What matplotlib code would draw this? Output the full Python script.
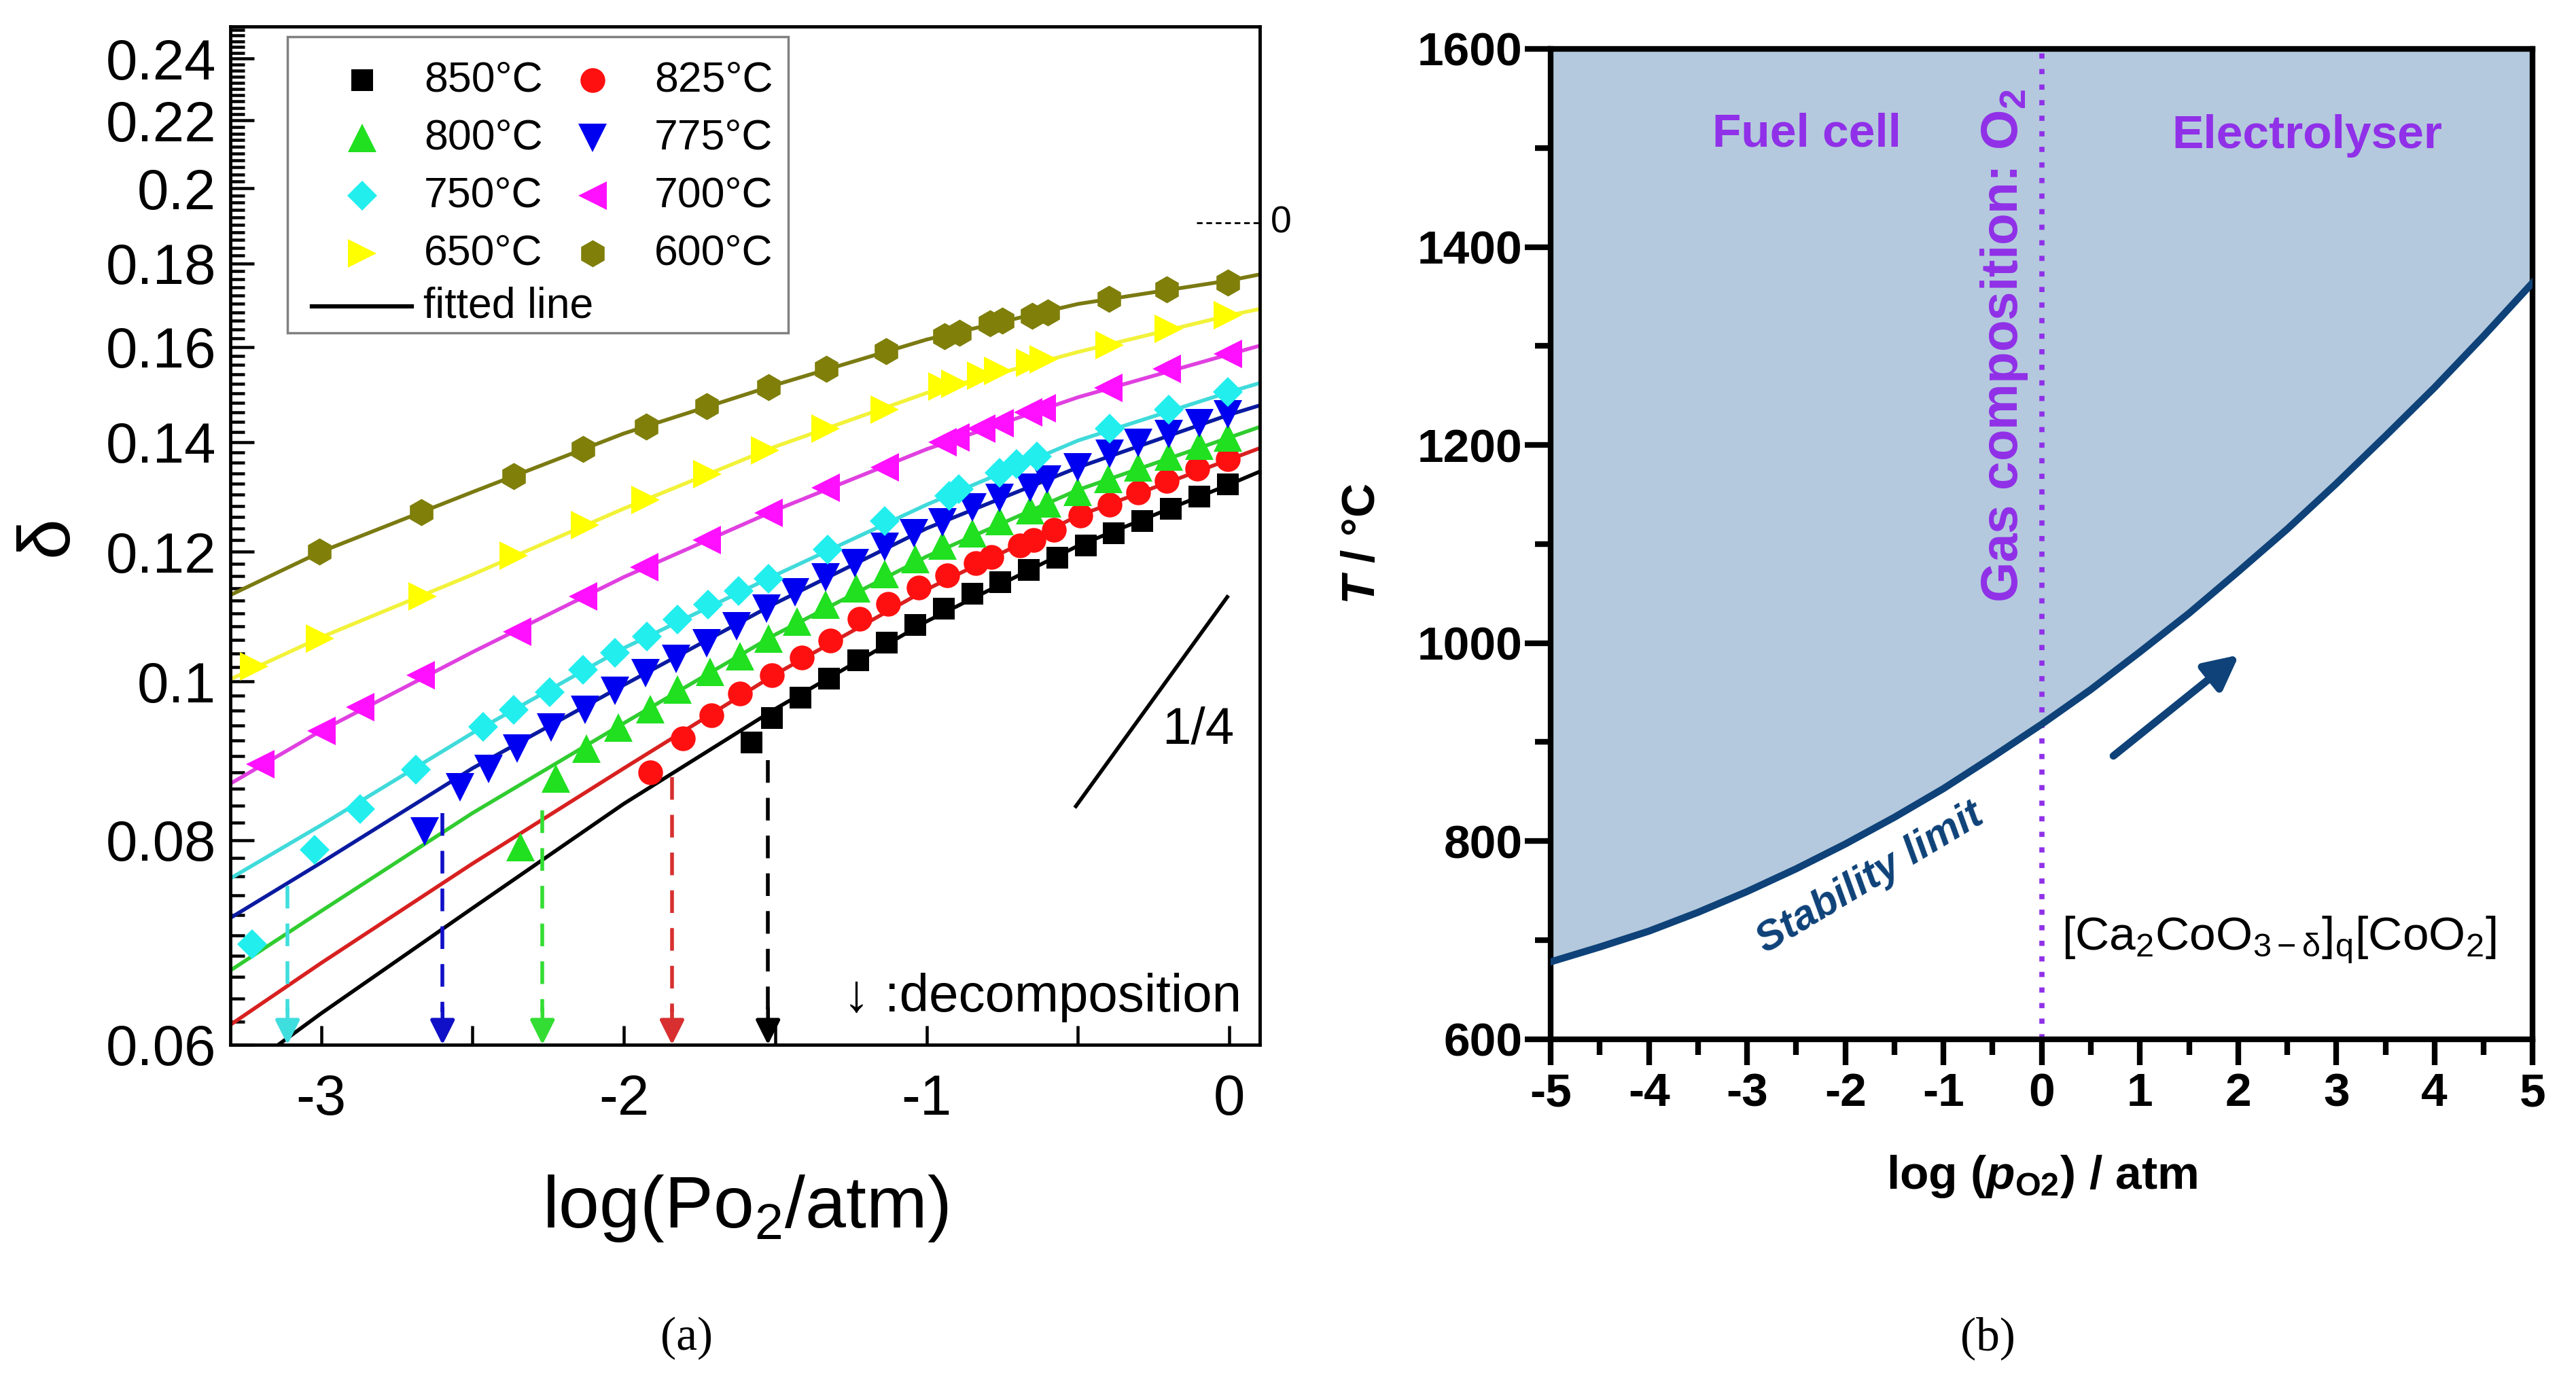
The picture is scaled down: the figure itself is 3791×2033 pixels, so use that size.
import numpy as np
import matplotlib
matplotlib.use("Agg")
import matplotlib.pyplot as plt
from matplotlib.ticker import FixedLocator, FormatStrFormatter, NullFormatter, MultipleLocator
from matplotlib.patches import Rectangle

# Fonts
plt.rcParams['font.family'] = ['Liberation Sans', 'DejaVu Sans']
plt.rcParams['mathtext.fontset'] = 'custom'
plt.rcParams['mathtext.rm'] = 'Liberation Sans'
plt.rcParams['mathtext.it'] = 'Liberation Sans:italic:bold'
plt.rcParams['mathtext.bf'] = 'Liberation Sans:bold'
plt.rcParams['axes.unicode_minus'] = False

# ---------------- Panel (a): delta vs log(pO2) ----------------
X_850 = [-1.579, -1.512, -1.417, -1.322, -1.227, -1.132, -1.038, -0.944, -0.850, -0.756,
         -0.662, -0.568, -0.474, -0.381, -0.287, -0.193, -0.099, -0.005]
Y_850 = [0.0918, 0.0950, 0.0977, 0.1004, 0.1030, 0.1056, 0.1083, 0.1108, 0.1131, 0.1150,
         0.1170, 0.1190, 0.1210, 0.1231, 0.1253, 0.1275, 0.1297, 0.1319]

X_825 = [-1.912, -1.805, -1.711, -1.616, -1.512, -1.412, -1.317, -1.222, -1.127, -1.026, -0.932,
         -0.837, -0.786, -0.692, -0.647, -0.580, -0.491, -0.396, -0.301, -0.206, -0.105, -0.005]
Y_825 = [0.0880, 0.0923, 0.0953, 0.0983, 0.1009, 0.1034, 0.1059, 0.1092, 0.1115, 0.1141, 0.1161,
         0.1181, 0.1191, 0.1211, 0.1220, 0.1238, 0.1262, 0.1282, 0.1304, 0.1326, 0.1349, 0.1366]

X_800 = [-2.341, -2.224, -2.124, -2.018, -1.912, -1.822, -1.716, -1.616, -1.523, -1.428, -1.334,
         -1.233, -1.138, -1.038, -0.948, -0.848, -0.759, -0.658, -0.602, -0.502, -0.401, -0.301,
         -0.200, -0.100, -0.005]
Y_800 = [0.0792, 0.0872, 0.0910, 0.0937, 0.0962, 0.0989, 0.1014, 0.1036, 0.1062, 0.1088, 0.1114,
         0.1140, 0.1163, 0.1188, 0.1211, 0.1232, 0.1253, 0.1272, 0.1284, 0.1306, 0.1329, 0.1351,
         0.1372, 0.1393, 0.1409]

X_775 = [-2.659, -2.542, -2.447, -2.353, -2.241, -2.129, -2.029, -1.928, -1.828, -1.727, -1.627,
         -1.529, -1.434, -1.334, -1.238, -1.138, -1.043, -0.948, -0.848, -0.759, -0.658, -0.602,
         -0.502, -0.396, -0.301, -0.200, -0.100, -0.005]
Y_775 = [0.0810, 0.0862, 0.0884, 0.0910, 0.0937, 0.0961, 0.0987, 0.1012, 0.1032, 0.1055, 0.1080,
         0.1108, 0.1133, 0.1157, 0.1181, 0.1208, 0.1232, 0.1250, 0.1277, 0.1294, 0.1313, 0.1328,
         0.1351, 0.1377, 0.1398, 0.1416, 0.1438, 0.1455]

X_750 = [-3.229, -3.022, -2.872, -2.687, -2.464, -2.364, -2.246, -2.135, -2.029, -1.923, -1.822,
         -1.722, -1.622, -1.523, -1.328, -1.138, -0.926, -0.893, -0.759, -0.703, -0.636, -0.396,
         -0.200, -0.005]
Y_750 = [0.0691, 0.0789, 0.0836, 0.0883, 0.0938, 0.0961, 0.0985, 0.1016, 0.1041, 0.1065, 0.1091,
         0.1114, 0.1135, 0.1155, 0.1204, 0.1253, 0.1298, 0.1311, 0.1341, 0.1357, 0.1372, 0.1427,
         0.1466, 0.1502]

X_700 = [-3.201, -3.000, -2.872, -2.671, -2.353, -2.135, -1.934, -1.727, -1.523, -1.334, -1.138,
         -0.948, -0.904, -0.820, -0.759, -0.664, -0.619, -0.401, -0.206, -0.005]
Y_700 = [0.0890, 0.0933, 0.0964, 0.1009, 0.1072, 0.1127, 0.1174, 0.1220, 0.1267, 0.1313, 0.1351,
         0.1400, 0.1409, 0.1427, 0.1438, 0.1460, 0.1468, 0.1511, 0.1551, 0.1584]

X_650 = [-3.221, -3.004, -2.665, -2.364, -2.129, -1.928, -1.725, -1.534, -1.334, -1.138, -0.948,
         -0.904, -0.820, -0.764, -0.658, -0.613, -0.396, -0.200, -0.005]
Y_650 = [0.1021, 0.1062, 0.1127, 0.1193, 0.1246, 0.1291, 0.1338, 0.1384, 0.1427, 0.1466, 0.1513,
         0.1520, 0.1537, 0.1547, 0.1565, 0.1572, 0.1605, 0.1641, 0.1673]

X_600 = [-3.005, -2.669, -2.365, -2.134, -1.927, -1.726, -1.523, -1.331, -1.133, -0.941, -0.891,
         -0.791, -0.750, -0.652, -0.600, -0.398, -0.206, -0.006]
Y_600 = [0.1200, 0.1268, 0.1335, 0.1387, 0.1431, 0.1472, 0.1512, 0.1551, 0.1591, 0.1625, 0.1633,
         0.1654, 0.1661, 0.1671, 0.1679, 0.1712, 0.1735, 0.1752]

# Fitted Lines (at fixed log(pO2) values)
FIT_X = [-3.3, -3.0, -2.5, -2.0, -1.5, -1.0, -0.5, 0.0, 0.1]
FIT_850 = [0.0571, 0.0627, 0.0727, 0.0842, 0.0962, 0.1088, 0.1210, 0.1319, 0.1343]
FIT_825 = [0.0617, 0.0673, 0.0774, 0.0885, 0.1010, 0.1138, 0.1262, 0.1366, 0.1388]
FIT_800 = [0.0666, 0.0724, 0.0831, 0.0943, 0.1068, 0.1192, 0.1309, 0.1409, 0.1430]
FIT_775 = [0.0717, 0.0775, 0.0885, 0.0995, 0.1116, 0.1240, 0.1351, 0.1455, 0.1474]
FIT_750 = [0.0758, 0.0817, 0.0930, 0.1048, 0.1161, 0.1282, 0.1403, 0.1502, 0.1521]
FIT_700 = [0.0866, 0.0933, 0.1042, 0.1158, 0.1272, 0.1386, 0.1491, 0.1584, 0.1603]
FIT_650 = [0.1003, 0.1064, 0.1162, 0.1275, 0.1391, 0.1500, 0.1589, 0.1673, 0.1688]
FIT_600 = [0.1129, 0.1200, 0.1305, 0.1417, 0.1517, 0.1617, 0.1700, 0.1757, 0.1772]

# Decomposition Arrows (750, 775, 800, 825, 850 C)
DECOMP_X = [-3.111, -2.599, -2.269, -1.841, -1.524]
DECOMP_TOP = [0.0750, 0.0831, 0.0834, 0.0874, 0.0895]
DECOMP_COLORS = ['#3fdede', '#1010c8', '#33dd33', '#d83030', '#000000']

# Series Table: label, x, y, fit, marker, marker colour, line colour, marker size
SERIES = [
    ('850°C', X_850, Y_850, FIT_850, 's', '#000000', '#000000', 9.3),
    ('825°C', X_825, Y_825, FIT_825, 'o', '#ff1010', '#d82020', 10.5),
    ('800°C', X_800, Y_800, FIT_800, '^', '#20e020', '#30cc30', 12),
    ('775°C', X_775, Y_775, FIT_775, 'v', '#0000f0', '#0a1aa0', 12),
    ('750°C', X_750, Y_750, FIT_750, 'D', '#22eeee', '#40dada', 9),
    ('700°C', X_700, Y_700, FIT_700, '<', '#ff10ff', '#e040e0', 12),
    ('650°C', X_650, Y_650, FIT_650, '>', '#ffff00', '#f2f23a', 12),
    ('600°C', X_600, Y_600, FIT_600, 'h', '#7f7f0a', '#7a7a12', 11.5),
]

# ---------------- Panel (b): stability limit ----------------
STAB_X = [-5.0, -4.5, -4.0, -3.5, -3.0, -2.5, -2.0, -1.5, -1.0, -0.5, 0.0,
          0.5, 1.0, 1.5, 2.0, 2.5, 3.0, 3.5, 4.0, 4.5, 5.0]
STAB_T = [678, 693, 709, 728, 749, 772, 797, 824, 853, 885, 918,
          953, 991, 1030, 1072, 1115, 1161, 1209, 1258, 1310, 1364]


def draw_legend(ax):
    # Legend Box (two columns of markers, fitted line on its own row)
    tr = ax.transAxes
    ax.add_patch(Rectangle((0.0558, 0.6995), 0.4865, 0.2908, transform=tr, facecolor='white',
                           edgecolor='#808080', lw=1.0, zorder=6))
    for i, (label, xs, ys, fit, mk, mc, lc, ms) in enumerate(SERIES):
        row, col = i // 2, i % 2
        mx = 0.1278 + col * 0.2238
        my = 0.9478 - row * 0.0569
        ax.plot([mx], [my], ls='none', marker=mk, color=mc, ms=ms, mew=0, transform=tr,
                clip_on=False, zorder=7)
        ax.text(mx + 0.0605, my, label, fontsize=18, ha='left', va='center', transform=tr,
                zorder=7)
    ax.plot([0.0792, 0.176], [0.7251, 0.7251], color='black', lw=1.8, transform=tr,
            clip_on=False, zorder=7)
    ax.text(0.1876, 0.7251, 'fitted line', fontsize=18, ha='left', va='center', transform=tr,
            zorder=7)


def draw_left(fig):
    ax = fig.add_axes([0.0894, 0.2435, 0.3996, 0.7371])
    ax.set_yscale('log')

    # Fitted Lines and Data
    for label, xs, ys, fit, mk, mc, lc, ms in SERIES:
        ax.plot(FIT_X, fit, color=lc, lw=1.6, zorder=2)
        ax.plot(xs, ys, ls='none', marker=mk, color=mc, ms=ms, mec=mc, mew=0, zorder=3)

    # Decomposition Arrows
    for x, top, c in zip(DECOMP_X, DECOMP_TOP, DECOMP_COLORS):
        ax.plot([x, x], [top, 0.0628], color=c, lw=1.6, ls=(0, (6, 4)), zorder=2)
        ax.annotate('', xy=(x, 0.06), xytext=(x, 0.0632),
                    arrowprops=dict(arrowstyle='-|>', color=c, lw=1.6, mutation_scale=22,
                                    shrinkA=0, shrinkB=0), zorder=4)

    # Slope Guide
    ax.plot([-0.507, -0.007], [0.0839, 0.1126], color='black', lw=1.6)
    ax.text(-0.103, 0.0933, '1/4', fontsize=22, ha='center', va='center')
    ax.text(0.04, 0.0641, '↓ :decomposition', fontsize=22.5, ha='right', va='center')

    # Stray Dashed Marker at Top Right
    ax.plot([-0.108, 0.097], [0.1905, 0.1905], color='black', lw=0.8, ls=(0, (3, 2)))
    ax.text(0.135, 0.1905, '0', fontsize=16, ha='left', va='center', clip_on=False)

    draw_legend(ax)

    # Axes
    ax.set_xlim(-3.3, 0.1)
    ax.set_ylim(0.06, 0.251)
    ax.xaxis.set_major_locator(FixedLocator([-3, -2, -1, 0]))
    ax.xaxis.set_minor_locator(FixedLocator([-2.5, -1.5, -0.5]))
    ax.yaxis.set_major_locator(FixedLocator(np.arange(0.06, 0.2401, 0.02)))
    ax.yaxis.set_major_formatter(FormatStrFormatter('%g'))
    ax.yaxis.set_minor_locator(FixedLocator(np.arange(0.06, 0.251, 0.002)))
    ax.yaxis.set_minor_formatter(NullFormatter())
    ax.tick_params(axis='both', which='both', direction='in', labelsize=24, width=1.3)
    ax.tick_params(axis='x', which='both', length=8, pad=12)
    ax.tick_params(axis='y', which='major', length=10, pad=6)
    ax.tick_params(axis='y', which='minor', length=6)
    for sp in ax.spines.values():
        sp.set_linewidth(1.4)

    ax.set_xlabel('log(Po$_2$/atm)', fontsize=31, labelpad=20)
    ax.set_ylabel('δ', fontsize=31, labelpad=10)
    return ax


def draw_right(fig):
    ax = fig.add_axes([0.602, 0.2476, 0.3812, 0.717])
    purple = '#9030e8'
    navy = '#0e4278'

    # Stability Region
    ax.fill_between(STAB_X, STAB_T, 1600, color='#b4c9dd', lw=0, zorder=1)
    ax.plot(STAB_X, STAB_T, color=navy, lw=3.0, zorder=3)
    ax.axvline(0, color=purple, lw=2.2, ls=(0, (1, 2)), zorder=2)

    # Arrow
    ax.annotate('', xy=(2.01, 988), xytext=(0.73, 886),
                arrowprops=dict(arrowstyle='-|>', color=navy, lw=3.2, mutation_scale=30,
                                shrinkA=0, shrinkB=0), zorder=4)

    # Labels
    ax.text(-2.39, 1514, 'Fuel cell', color=purple, fontsize=20, fontweight='bold',
            ha='center', va='center')
    ax.text(2.70, 1512, 'Electrolyser', color=purple, fontsize=20, fontweight='bold',
            ha='center', va='center')
    ax.text(-0.38, 1300, r'Gas composition: O$_\mathbf{2}$', color=purple, fontsize=22,
            fontweight='bold', rotation=90, ha='center', va='center')
    ax.text(-1.75, 762, 'Stability limit', color=navy, fontsize=17.5, fontweight='bold',
            fontstyle='italic', rotation=31, rotation_mode='anchor', ha='center', va='center')
    ax.text(0.2, 700, r'[Ca$_\mathrm{2}$CoO$_\mathrm{3−δ}$]$_\mathrm{q}$[CoO$_\mathrm{2}$]',
            fontsize=20, ha='left', va='center')

    # Axes
    ax.set_xlim(-5, 5)
    ax.set_ylim(600, 1600)
    ax.xaxis.set_major_locator(MultipleLocator(1))
    ax.xaxis.set_minor_locator(MultipleLocator(0.5))
    ax.yaxis.set_major_locator(MultipleLocator(200))
    ax.yaxis.set_minor_locator(MultipleLocator(100))
    ax.tick_params(axis='both', which='major', direction='out', length=11, width=2.4,
                   labelsize=20, pad=3)
    ax.tick_params(axis='both', which='minor', direction='out', length=6.5, width=2.4)
    ax.tick_params(axis='y', which='major', pad=1)
    for lab in ax.get_xticklabels() + ax.get_yticklabels():
        lab.set_fontweight('bold')
    for sp in ax.spines.values():
        sp.set_linewidth(2.4)

    ax.set_xlabel(r'log ($\mathit{p}_\mathbf{O2}$) / atm', fontsize=20, fontweight='bold',
                  labelpad=16)
    ax.set_ylabel(r'$\mathit{T}$ / °C', fontsize=20, fontweight='bold', labelpad=14)
    return ax


def main():
    fig = plt.figure(figsize=(15.164, 8.132), dpi=250)
    draw_left(fig)
    draw_right(fig)

    # Panel Captions
    fig.text(0.2666, 0.031, '(a)', fontsize=20, family='Liberation Serif',
             ha='center', va='center')
    fig.text(0.7717, 0.031, '(b)', fontsize=20, family='Liberation Serif',
             ha='center', va='center')

    fig.savefig('out.png', dpi=250)


if __name__ == "__main__":
    main()
